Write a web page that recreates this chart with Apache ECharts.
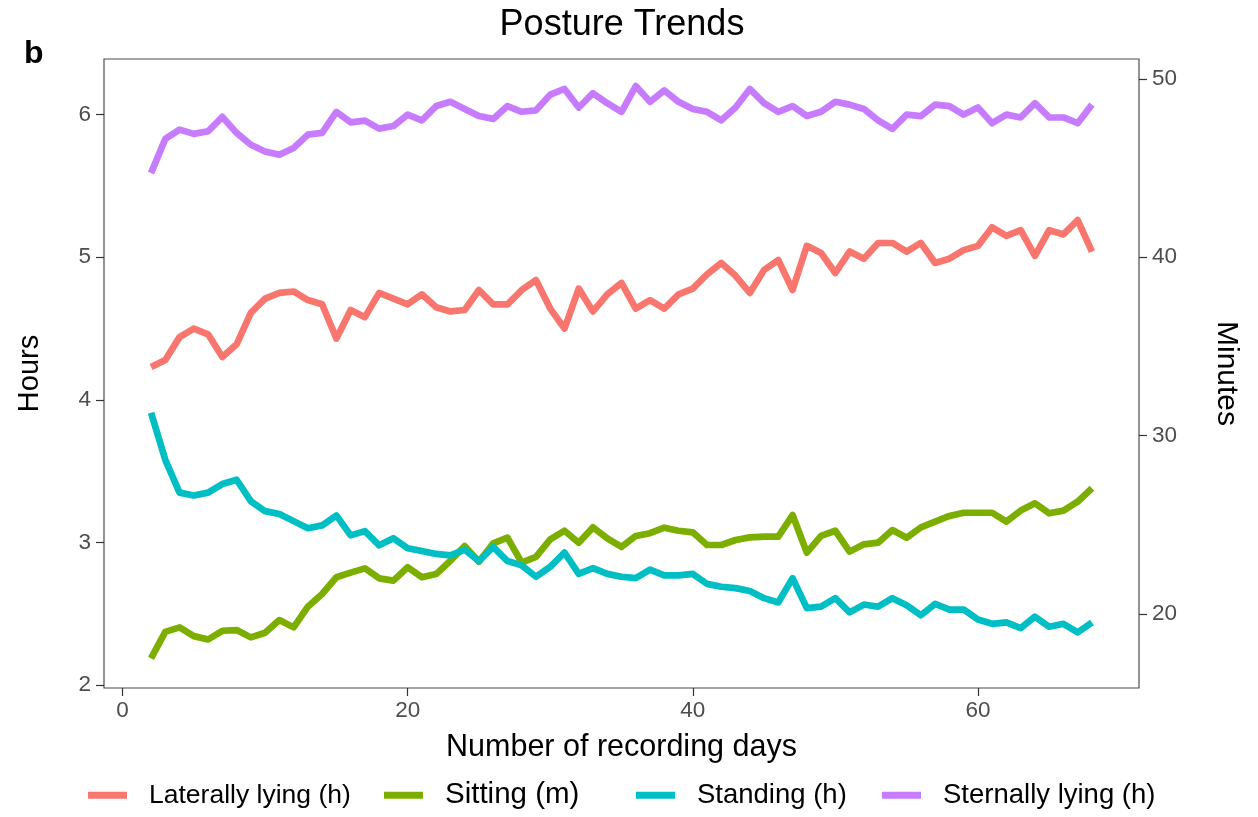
<!DOCTYPE html>
<html>
<head>
<meta charset="utf-8">
<title>Posture Trends</title>
<script src="https://cdn.jsdelivr.net/npm/echarts@6/dist/echarts.min.js"></script>
<style>
  html, body { margin: 0; padding: 0; background: #ffffff; }
  #chart { width: 1258px; height: 817px; }
</style>
</head>
<body>
<div id="chart"></div>
<script>
// Recording day of each daily average
const days = [2, 3, 4, 5, 6, 7, 8, 9, 10, 11, 12, 13, 14, 15, 16, 17, 18, 19, 20, 21,
  22, 23, 24, 25, 26, 27, 28, 29, 30, 31, 32, 33, 34, 35, 36, 37, 38, 39, 40, 41,
  42, 43, 44, 45, 46, 47, 48, 49, 50, 51, 52, 53, 54, 55, 56, 57, 58, 59, 60, 61,
  62, 63, 64, 65, 66, 67, 68];

// Hours per day lying on the side
const laterallyLying = [4.23, 4.28, 4.44, 4.50, 4.46, 4.30, 4.39, 4.61, 4.71, 4.75,
  4.76, 4.70, 4.67, 4.43, 4.63, 4.58, 4.75, 4.71, 4.67, 4.74,
  4.65, 4.62, 4.63, 4.77, 4.67, 4.67, 4.77, 4.84, 4.64, 4.50,
  4.78, 4.62, 4.74, 4.82, 4.64, 4.70, 4.64, 4.74, 4.78, 4.88,
  4.96, 4.87, 4.75, 4.91, 4.98, 4.77, 5.08, 5.03, 4.89, 5.04,
  4.99, 5.10, 5.10, 5.04, 5.10, 4.96, 4.99, 5.05, 5.08, 5.21,
  5.15, 5.19, 5.01, 5.19, 5.16, 5.26, 5.04];

// Minutes per day sitting (secondary axis)
const sitting = [17.50, 18.99, 19.24, 18.75, 18.56, 19.05, 19.09, 18.68, 18.94, 19.65,
  19.24, 20.40, 21.11, 22.05, 22.31, 22.55, 21.99, 21.86, 22.61, 22.05,
  22.23, 22.98, 23.80, 22.92, 23.95, 24.27, 22.87, 23.20, 24.18, 24.66,
  23.99, 24.85, 24.23, 23.75, 24.37, 24.52, 24.83, 24.66, 24.57, 23.86,
  23.86, 24.14, 24.29, 24.33, 24.33, 25.54, 23.43, 24.37, 24.66, 23.49,
  23.90, 23.99, 24.70, 24.27, 24.85, 25.17, 25.49, 25.67, 25.67, 25.67,
  25.17, 25.79, 26.20, 25.64, 25.79, 26.29, 27.04];

// Hours per day standing
const standing = [3.91, 3.58, 3.35, 3.33, 3.35, 3.41, 3.44, 3.29, 3.22, 3.20,
  3.15, 3.10, 3.12, 3.19, 3.05, 3.08, 2.98, 3.03, 2.96, 2.94,
  2.92, 2.91, 2.95, 2.87, 2.97, 2.87, 2.84, 2.76, 2.83, 2.93,
  2.78, 2.82, 2.78, 2.76, 2.75, 2.81, 2.77, 2.77, 2.78, 2.71,
  2.69, 2.68, 2.66, 2.61, 2.58, 2.75, 2.54, 2.55, 2.61, 2.51,
  2.565, 2.55, 2.61, 2.56, 2.49, 2.57, 2.53, 2.53, 2.46, 2.43,
  2.44, 2.40, 2.48, 2.41, 2.43, 2.37, 2.44];

// Hours per day lying on the sternum
const sternallyLying = [5.59, 5.83, 5.895, 5.865, 5.883, 5.984, 5.872, 5.789, 5.742, 5.719,
  5.766, 5.86, 5.872, 6.019, 5.946, 5.958, 5.902, 5.92, 6.00, 5.96,
  6.06, 6.09, 6.04, 5.99, 5.97, 6.06, 6.02, 6.03, 6.14, 6.18,
  6.05, 6.15, 6.08, 6.02, 6.20, 6.09, 6.17, 6.09, 6.04, 6.02,
  5.96, 6.05, 6.18, 6.08, 6.02, 6.06, 5.99, 6.02, 6.09, 6.07,
  6.04, 5.96, 5.90, 6.00, 5.99, 6.07, 6.06, 6.00, 6.05, 5.94,
  6.00, 5.98, 6.08, 5.98, 5.98, 5.94, 6.07];

// Tick labels
const xTicks = [0, 20, 40, 60];
const hourTicks = [2, 3, 4, 5, 6];
const minuteTicks = [20, 30, 40, 50];

const seriesNames = ['Laterally lying (h)', 'Sitting (m)', 'Standing (h)', 'Sternally lying (h)'];
const colors = ['#F8766D', '#7CAE00', '#00BFC4', '#C77CFF'];

// Hours axis range; the minutes axis is the same scale times 8
const hourMin = 1.98, hourMax = 6.39;
const minutesPerHourUnit = 8;

const FONT = '"Liberation Sans", Arial, Helvetica, sans-serif';
const tickColor = '#333333';
const labelColor = '#4D4D4D';

function pairs(values) {
  return days.map((d, i) => [d, values[i]]);
}

const chart = echarts.init(document.getElementById('chart'), null, { renderer: 'canvas' });

function lineSeries(idx, values, yAxisIndex) {
  return {
    name: seriesNames[idx],
    type: 'line',
    yAxisIndex: yAxisIndex,
    data: pairs(values),
    showSymbol: false,
    symbol: 'none',
    smooth: false,
    color: colors[idx],
    lineStyle: { width: 6.7, color: colors[idx], cap: 'butt', join: 'round' },
    emphasis: { disabled: true },
    z: 2 + idx
  };
}

// One legend block per series so each key sits at its own spot in the row
const legendLeft = [88, 384, 636, 882];
const legendFontSize = [26.5, 29.5, 27.5, 27.5];
const legends = seriesNames.map((n, i) => ({
  data: [n],
  left: legendLeft[i],
  top: 796 - legendFontSize[i] / 2 - 1,
  orient: 'horizontal',
  icon: 'rect',
  itemWidth: 39,
  itemHeight: 7,
  selectedMode: false,
  padding: 0,
  textStyle: {
    fontFamily: FONT,
    fontSize: legendFontSize[i],
    color: '#000000',
    padding: [0, 0, 0, 17]
  }
}));

const baseAxisLine = { show: false, onZero: false };
const tickLabel = { fontFamily: FONT, fontSize: 22.5, color: labelColor };

const option = {
  animation: false,
  backgroundColor: '#ffffff',
  textStyle: { fontFamily: FONT },
  grid: {
    left: 104,
    right: 119,
    top: 59,
    bottom: 129,
    show: true,
    borderColor: '#4D4D4D',
    borderWidth: 1.2,
    backgroundColor: 'transparent'
  },
  legend: legends,
  xAxis: {
    type: 'value',
    min: -1.3,
    max: 71.3,
    name: 'Number of recording days',
    nameLocation: 'middle',
    nameGap: 44,
    nameTextStyle: { fontFamily: FONT, fontSize: 30.5, color: '#000000', verticalAlign: 'top' },
    axisLine: baseAxisLine,
    axisTick: { show: true, length: 8, customValues: xTicks, lineStyle: { color: tickColor, width: 1.2 } },
    axisLabel: Object.assign({ customValues: xTicks, margin: 11 }, tickLabel),
    splitLine: { show: false }
  },
  yAxis: [
    {
      type: 'value',
      position: 'left',
      min: hourMin,
      max: hourMax,
      name: 'Hours',
      nameLocation: 'middle',
      nameGap: 60,
      nameRotate: 90,
      nameTextStyle: { fontFamily: FONT, fontSize: 29, color: '#000000' },
      axisLine: baseAxisLine,
      axisTick: { show: true, length: 8, customValues: hourTicks, lineStyle: { color: tickColor, width: 1.2 } },
      axisLabel: Object.assign({ customValues: hourTicks, margin: 13 }, tickLabel),
      splitLine: { show: false }
    },
    {
      type: 'value',
      position: 'right',
      min: hourMin * minutesPerHourUnit,
      max: hourMax * minutesPerHourUnit,
      name: 'Minutes',
      nameLocation: 'middle',
      nameGap: 72,
      nameRotate: -90,
      nameTextStyle: { fontFamily: FONT, fontSize: 30, color: '#000000' },
      axisLine: baseAxisLine,
      axisTick: { show: true, length: 8, customValues: minuteTicks, lineStyle: { color: tickColor, width: 1.2 } },
      axisLabel: Object.assign({ customValues: minuteTicks, margin: 13 }, tickLabel),
      splitLine: { show: false }
    }
  ],
  graphic: [
    {
      type: 'text',
      x: 622,
      y: 25,
      style: {
        text: 'Posture Trends',
        font: '36px ' + FONT,
        fill: '#000000',
        textAlign: 'center',
        textVerticalAlign: 'middle'
      }
    },
    {
      type: 'text',
      x: 24,
      y: 54,
      style: {
        text: 'b',
        font: 'bold 32px ' + FONT,
        fill: '#000000',
        textAlign: 'left',
        textVerticalAlign: 'middle'
      }
    }
  ],
  series: [
    lineSeries(0, laterallyLying, 0),
    lineSeries(1, sitting, 1),
    lineSeries(2, standing, 0),
    lineSeries(3, sternallyLying, 0)
  ]
};

chart.setOption(option);
</script>
</body>
</html>
